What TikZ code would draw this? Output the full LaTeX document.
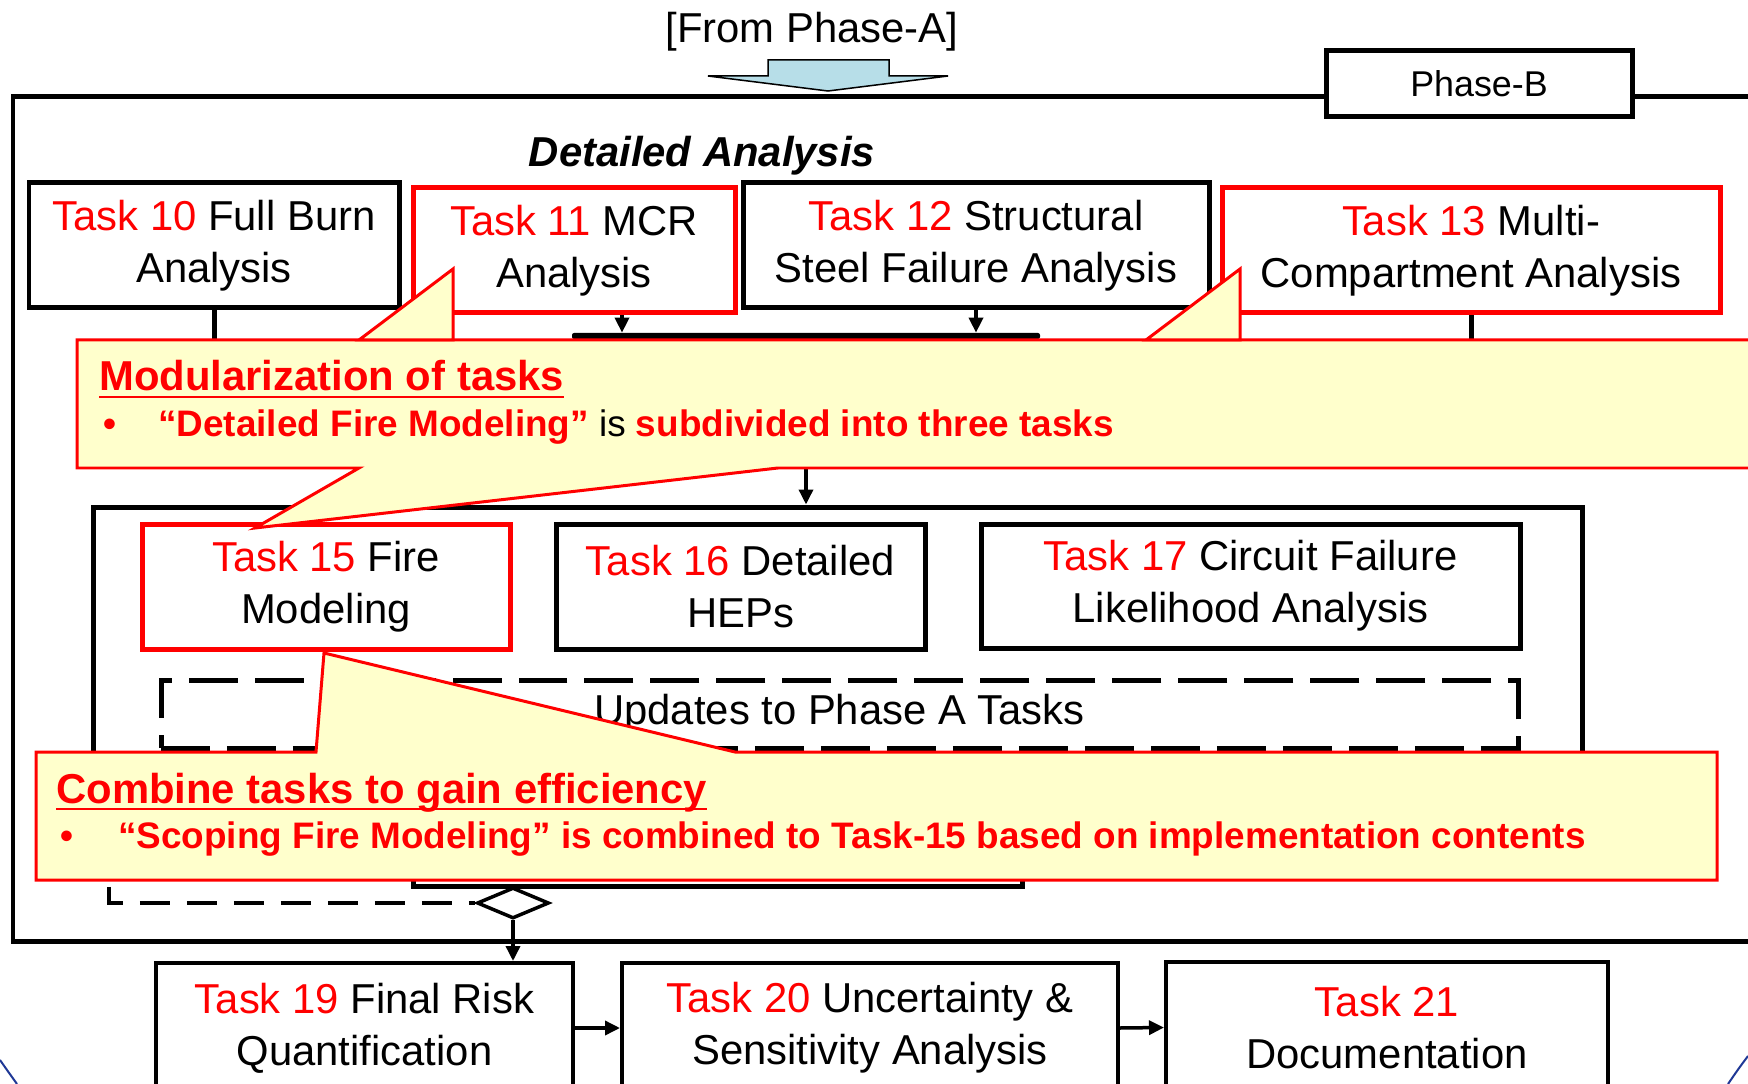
\documentclass[tikz,border=0pt]{standalone}
\usepackage{fontspec}
\setmainfont{Liberation Sans}
\usetikzlibrary{arrows.meta,shapes.geometric,calc}

\definecolor{noteyellow}{RGB}{255,255,204}
\definecolor{arrowblue}{RGB}{183,222,232}
\definecolor{edgeblue}{RGB}{31,56,150}

\newcommand{\tasksize}{\fontsize{23.8}{29.5}\selectfont}
\newcommand{\notesize}{\fontsize{21}{26}\selectfont}
\newcommand{\tasknum}[1]{\textcolor{red}{Task #1}}
\newcommand{\hdline}[1]{\setbox0\hbox{#1}\rlap{\rule[-0.16em]{\wd0}{0.05em}}\box0}

\tikzset{
  wh/.style 2 args={minimum width=#1*0.02cm, minimum height=#2*0.02cm},
  taskbox/.style={draw, line width=0.1cm, fill=white, inner sep=0pt, align=center, font=\tasksize},
  redbox/.style={taskbox, draw=red},
  lowbox/.style={taskbox, line width=0.08cm},
  frame/.style={line width=0.1cm},
  arr/.style={-{Triangle[length=0.3cm,width=0.28cm]}, line width=0.07cm},
  dashbox/.style={draw, line width=0.1cm, dash pattern=on 0.98cm off 0.34cm, inner sep=0pt, font=\tasksize},
  dashline/.style={line width=0.08cm, dash pattern=on 0.6cm off 0.34cm},
  note/.style={draw=red, line width=0.06cm, fill=noteyellow},
  notehead/.style={anchor=base west, inner sep=0pt, text=red, font=\tasksize\bfseries},
  noteitem/.style={anchor=base west, inner sep=0pt, font=\notesize\bfseries},
}

\begin{document}
\begin{tikzpicture}[x=0.02cm, y=-0.02cm]
  \useasboundingbox (0,0) rectangle (1748,1084);
  \clip (0,0) rectangle (1748,1084);

  % phase B frame
  \draw[frame] (13,97) rectangle (1800,941);
  \node[taskbox, wh={306}{66}, font=\fontsize{20.4}{24}\selectfont] (phaseb) at (1479,84) {Phase-B};

  \node[anchor=base, font=\tasksize] (froma) at (812,43) {[From Phase-A]};
  \draw[fill=arrowblue, line width=0.03cm] (768,60) -- (889,60) -- (889,76) -- (948,76)
    -- (828,91) -- (708,76) -- (768,76) -- cycle;

  \node[anchor=base, font=\tasksize\bfseries\itshape] (detail) at (702,167) {Detailed Analysis};

  % detailed analysis tasks
  \node[taskbox, wh={370}{125}] (t10) at (214,245.5) {\tasknum{10} Full Burn\\Analysis};
  \node[redbox, wh={322}{125}] (t11) at (574,250.5) {\tasknum{11} MCR\\Analysis};
  \node[taskbox, wh={466}{125}] (t12) at (976,245.5) {\tasknum{12} Structural\\Steel Failure Analysis};
  \node[redbox, wh={498}{125}] (t13) at (1471,250.5) {\tasknum{13} Multi-\\Compartment Analysis};
  \node[fill=black, inner sep=0pt, rounded corners=0.04cm, wh={468}{6}] (bar) at (806,336) {};

  \coordinate (t11out) at ($(t11.south)+(48,0)$);
  \draw[frame] (t10.south) -- ++(0,40);
  \draw[arr] (t11out) -- (t11out |- bar.north);
  \draw[arr] (t12.south) -- (t12.south |- bar.north);
  \draw[frame] (t13.south) -- ++(0,40);

  \node[draw, line width=0.1cm, inner sep=0pt, wh={1489}{358}] (inner) at (837.5,686) {};
  \draw[arr] (bar.south) -- (bar.south |- inner.north);

  \node[redbox, wh={368}{125}] (t15) at (326,586.5) {\tasknum{15} Fire\\Modeling};
  \node[taskbox, wh={369}{125}] (t16) at (740.5,586.5) {\tasknum{16} Detailed\\HEPs};
  \node[taskbox, wh={539}{124}] (t17) at (1250.5,586) {\tasknum{17} Circuit Failure\\Likelihood Analysis};
  \node[dashbox, wh={1357}{68}] (upd) at (839.5,714) {Updates to Phase A Tasks};
  \node[draw, line width=0.1cm, inner sep=0pt, wh={609}{86}] (t18) at (717.5,843) {};
  \node[diamond, draw, fill=white, line width=0.07cm, inner sep=0pt, wh={72}{31}] (dia) at (513,903) {};
  \coordinate (updlink) at (109,840);
  \draw[dashline] (updlink) |- (dia.west);

  % after phase B
  \node[lowbox, wh={417}{130}] (t19) at (364.5,1028) {\tasknum{19} Final Risk\\Quantification};
  \node[lowbox, wh={496}{130}] (t20) at (870,1028) {\tasknum{20} Uncertainty \&\\Sensitivity Analysis};
  \node[lowbox, wh={442}{131}] (t21) at (1387,1027.5) {\tasknum{21}\\Documentation};
  \draw[arr] (dia.south) -- (dia.south |- t19.north);
  \draw[arr] (t19.east) -- (t20.west);
  \draw[arr] (t20.east) -- (t21.west);

  % callouts
  \draw[note] (77,340) -- (1800,340) -- (1800,468) -- (778,468) -- (255,528) -- (359,468) -- (77,468) -- cycle;
  \draw[note] (359,340) -- (453,269) -- (453,340) -- cycle;
  \draw[note] (1146,340) -- (1240,269) -- (1240,340) -- cycle;
  \node[notehead] (head1) at (99,391) {\hdline{Modularization of tasks}};
  \node[noteitem, text=red] (item1) at (103,437) {\makebox[1.1cm][l]{•}“Detailed Fire Modeling” {\color{black}\mdseries is} subdivided into three tasks};

  \draw[note] (36,752) -- (316,752) -- (324,653) -- (735,752) -- (1717,752) -- (1717,880) -- (36,880) -- cycle;
  \node[notehead] (head2) at (56,803) {\hdline{Combine tasks to gain efficiency}};
  \node[noteitem, text=red] (item2) at (60,848) {\makebox[1.16cm][l]{•}“Scoping Fire Modeling” is combined to Task-15 based on implementation contents};

  \draw[edgeblue, line width=0.04cm] (0,1060) .. controls (7,1070) .. (17,1084);
  \draw[edgeblue, line width=0.04cm] (1748,1056) .. controls (1739,1068) .. (1728,1084);
\end{tikzpicture}
\end{document}
